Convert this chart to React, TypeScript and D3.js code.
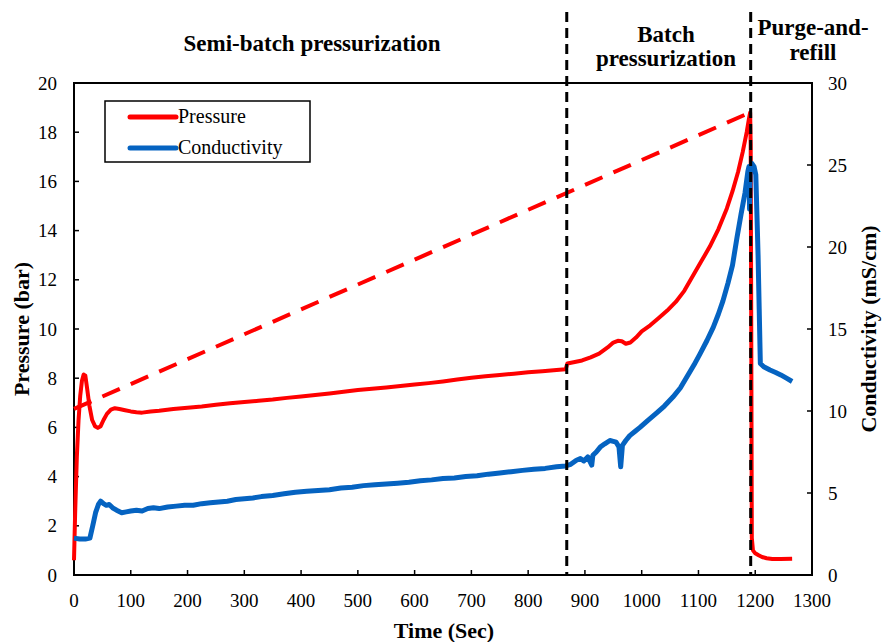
import React from "react";
import * as d3 from "d3";

// ---- Data ----
const pressureTime = [0, 2, 5, 8, 11, 14, 17, 20, 23, 27, 32, 37, 42, 47, 52, 58, 65, 72, 80, 90, 100, 110, 120, 135, 150, 175, 200, 225, 250, 275, 300, 325, 350, 375, 400, 425, 450, 475, 500, 525, 550, 575, 600, 625, 650, 675, 700, 725, 750, 775, 800, 825, 850, 866, 869, 880, 895, 910, 925, 940, 950, 958, 965, 972, 980, 990, 1000, 1015, 1030, 1045, 1060, 1075, 1090, 1105, 1120, 1135, 1150, 1160, 1170, 1178, 1185, 1189, 1191, 1192, 1193, 1194, 1196, 1200, 1206, 1212, 1220, 1230, 1245, 1265];
const pressureValues = [0.6, 2.5, 4.8, 6.3, 7.3, 7.9, 8.15, 8.1, 7.6, 6.9, 6.3, 6.05, 5.98, 6.05, 6.3, 6.55, 6.72, 6.78, 6.75, 6.7, 6.65, 6.62, 6.6, 6.65, 6.68, 6.75, 6.8, 6.85, 6.92, 6.98, 7.03, 7.08, 7.13, 7.2, 7.26, 7.32, 7.38, 7.45, 7.52, 7.57, 7.62, 7.68, 7.74, 7.8, 7.87, 7.95, 8.02, 8.08, 8.13, 8.18, 8.24, 8.28, 8.33, 8.36, 8.6, 8.65, 8.72, 8.85, 9.0, 9.25, 9.45, 9.52, 9.5, 9.4, 9.45, 9.65, 9.9, 10.15, 10.45, 10.75, 11.1, 11.55, 12.15, 12.75, 13.35, 14.05, 14.9, 15.6, 16.4, 17.2, 18.0, 18.55, 18.8, 17.5, 10, 1.5, 1.0, 0.88, 0.8, 0.73, 0.68, 0.65, 0.65, 0.66];

const condTime = [0, 10, 20, 28, 33, 38, 43, 47, 52, 57, 62, 68, 75, 84, 92, 100, 110, 120, 130, 140, 150, 165, 180, 195, 210, 225, 240, 255, 270, 285, 300, 315, 330, 350, 370, 390, 410, 430, 450, 470, 490, 510, 530, 550, 570, 590, 610, 630, 650, 670, 690, 710, 730, 750, 770, 790, 810, 830, 850, 866, 875, 885, 892, 898, 905, 912, 914, 920, 927, 935, 944, 950, 955, 960, 963, 966, 972, 979, 988, 997, 1010, 1027, 1040, 1055, 1068, 1080, 1092, 1103, 1115, 1126, 1135, 1143, 1152, 1160, 1168, 1175, 1182, 1187, 1189, 1190, 1191, 1194, 1198, 1201, 1203, 1205, 1207, 1209, 1215, 1226, 1236, 1245, 1255, 1265];
const condValues = [2.25, 2.2, 2.2, 2.25, 3.0, 3.8, 4.3, 4.5, 4.35, 4.25, 4.3, 4.1, 3.95, 3.8, 3.85, 3.9, 3.95, 3.9, 4.05, 4.1, 4.05, 4.15, 4.2, 4.25, 4.25, 4.35, 4.4, 4.45, 4.5, 4.6, 4.65, 4.7, 4.78, 4.85, 4.95, 5.05, 5.1, 5.15, 5.2, 5.3, 5.35, 5.45, 5.5, 5.55, 5.6, 5.65, 5.75, 5.8, 5.88, 5.92, 6.0, 6.05, 6.15, 6.22, 6.3, 6.38, 6.45, 6.5, 6.6, 6.65, 6.75, 7.0, 7.1, 6.95, 7.2, 6.7, 7.3, 7.5, 7.8, 8.0, 8.2, 8.15, 8.1, 7.8, 6.6, 7.9, 8.2, 8.5, 8.75, 9.0, 9.4, 9.9, 10.3, 10.85, 11.4, 12.1, 12.8, 13.5, 14.3, 15.1, 15.9, 16.7, 17.8, 18.9, 20.6, 22.0, 23.3, 24.6, 24.9, 22.3, 24.6, 25.1, 24.9, 24.4, 22.0, 19.5, 16.2, 12.9, 12.7, 12.5, 12.35, 12.2, 12.0, 11.8];

// Linear pressure trend (dashed red)
const trendTime = [0, 1191];
const trendValues = [6.75, 18.8];

// Phase boundaries (vertical dashed lines)
const phaseBoundaries = [868, 1192];

const xTicks = [0, 100, 200, 300, 400, 500, 600, 700, 800, 900, 1000, 1100, 1200, 1300];
const pTicks = [0, 2, 4, 6, 8, 10, 12, 14, 16, 18, 20];
const cTicks = [0, 5, 10, 15, 20, 25, 30];

const seriesNames = ["Pressure", "Conductivity"];
const phaseLabels = [
  ["Semi-batch pressurization"],
  ["Batch", "pressurization"],
  ["Purge-and-", "refill"],
];

const RED = "#FF0000";
const BLUE = "#0563C1";
const FONT = "'Liberation Serif', 'Times New Roman', serif";

export default function App() {
  const left = 74, right = 812, top = 83, bottom = 575;
  const x = d3.scaleLinear().domain([0, 1300]).range([left, right]);
  const yP = d3.scaleLinear().domain([0, 20]).range([bottom, top]);
  const yC = d3.scaleLinear().domain([0, 30]).range([bottom, top]);

  const pData = pressureTime.map((t, i) => [t, pressureValues[i]] as [number, number]);
  const cData = condTime.map((t, i) => [t, condValues[i]] as [number, number]);
  const tData = trendTime.map((t, i) => [t, trendValues[i]] as [number, number]);

  const lineP = d3.line<[number, number]>().x(d => x(d[0])).y(d => yP(d[1]));
  const lineC = d3.line<[number, number]>().x(d => x(d[0])).y(d => yC(d[1]));

  const phaseCenters = [312, 666, 813];
  const phaseBaselines = [[51], [42, 66], [35, 60]];

  return (
    <svg width={882} height={642} style={{ position: "absolute", left: 0, top: 0, background: "#fff" }} fontFamily={FONT}>
      <rect x={0} y={0} width={882} height={642} fill="#fff" />
      {/* frame */}
      <rect x={left} y={top} width={right - left} height={bottom - top} fill="none" stroke="#000" strokeWidth={2} />
      {/* x ticks */}
      {xTicks.map(t => (
        <g key={"x" + t}>
          <line x1={x(t)} x2={x(t)} y1={bottom} y2={bottom - 5} stroke="#000" strokeWidth={1.5} />
          <text x={x(t)} y={607} textAnchor="middle" fontSize={19}>{t}</text>
        </g>
      ))}
      {pTicks.map(v => (
        <g key={"p" + v}>
          <line x1={left} x2={left + 5} y1={yP(v)} y2={yP(v)} stroke="#000" strokeWidth={1.5} />
          <text x={57} y={yP(v) + 6.5} textAnchor="end" fontSize={19}>{v}</text>
        </g>
      ))}
      {cTicks.map(v => (
        <g key={"c" + v}>
          <line x1={right - 5} x2={right} y1={yC(v)} y2={yC(v)} stroke="#000" strokeWidth={1.5} />
          <text x={828} y={yC(v) + 6.5} textAnchor="start" fontSize={19}>{v}</text>
        </g>
      ))}
      {/* axis titles */}
      <text x={444} y={638} textAnchor="middle" fontSize={22} fontWeight="bold">Time (Sec)</text>
      <text transform={`translate(29,${(top + bottom) / 2}) rotate(-90)`} textAnchor="middle" fontSize={22} fontWeight="bold">Pressure (bar)</text>
      <text transform={`translate(876,${(top + bottom) / 2}) rotate(-90)`} textAnchor="middle" fontSize={22} fontWeight="bold">Conductivity (mS/cm)</text>
      {/* phase labels */}
      {phaseLabels.map((lines, i) => lines.map((s, j) => (
        <text key={"ph" + i + j} x={phaseCenters[i]} y={phaseBaselines[i][j]} textAnchor="middle" fontSize={23} fontWeight="bold">{s}</text>
      )))}
      {/* data */}
      <path d={lineP(tData) || ""} fill="none" stroke={RED} strokeWidth={4} strokeDasharray="19,12" />
      <path d={lineP(pData) || ""} fill="none" stroke={RED} strokeWidth={4} strokeLinejoin="round" />
      <path d={lineC(cData) || ""} fill="none" stroke={BLUE} strokeWidth={5} strokeLinejoin="round" />
      {/* phase boundaries */}
      {phaseBoundaries.map(t => (
        <line key={"b" + t} x1={x(t)} x2={x(t)} y1={12} y2={bottom} stroke="#000" strokeWidth={3} strokeDasharray="10,6" />
      ))}
      {/* legend */}
      <rect x={105} y={101} width={205} height={61} fill="#fff" stroke="#000" strokeWidth={1.5} />
      <line x1={130} x2={176} y1={117} y2={117} stroke={RED} strokeWidth={5} strokeLinecap="round" />
      <line x1={130} x2={176} y1={148} y2={148} stroke={BLUE} strokeWidth={5} strokeLinecap="round" />
      <text x={178} y={123} fontSize={20}>{seriesNames[0]}</text>
      <text x={178} y={154} fontSize={20}>{seriesNames[1]}</text>
    </svg>
  );
}
